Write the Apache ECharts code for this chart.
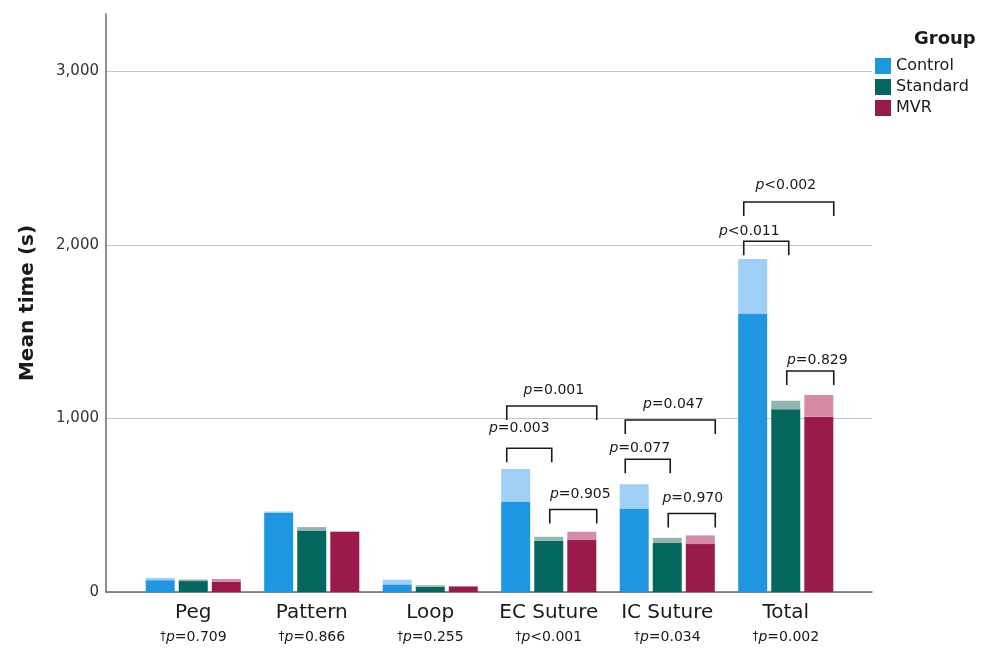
<!DOCTYPE html>
<html>
<head>
<meta charset="utf-8">
<script src="https://cdn.jsdelivr.net/npm/echarts@6/dist/echarts.min.js"></script>
<style>
  html, body { margin: 0; padding: 0; background: #ffffff; }
  #chart { width: 986px; height: 649px; }
</style>
</head>
<body>
<div id="chart"></div>
<script>
// Task categories and the overall (three-group) test result under each one
const categories = ['Peg', 'Pattern', 'Loop', 'EC Suture', 'IC Suture', 'Total'];
const overallP = ['=0.709', '=0.866', '=0.255', '<0.001', '=0.034', '=0.002'];
const groups = ['Control', 'Standard', 'MVR'];

// Mean time (s) per group, and the upper end of the lighter band above it
const controlMean   = [68, 456, 44, 518, 481, 1605];
const controlUpper  = [81, 464, 71, 709, 621, 1919];
const standardMean  = [63, 354, 30, 295, 282, 1053];
const standardUpper = [72, 374, 39, 318, 312, 1102];
const mvrMean       = [58, 347, 32, 299, 276, 1010];
const mvrUpper      = [75, 349, 33, 347, 326, 1135];

const yTicks = [0, 1000, 2000, 3000];
const yMax = 3330;

// Pairwise comparisons: category, the two groups compared, bracket height (s), p text
const bracketCategory = [3, 3, 3, 4, 4, 4, 5, 5, 5];
const bracketFrom     = [0, 0, 1, 0, 0, 1, 0, 0, 1];
const bracketTo       = [1, 2, 2, 2, 1, 2, 2, 1, 2];
const bracketLevel    = [828, 1072, 475, 991, 765, 452, 2247, 2021, 1273];
const bracketText     = ['=0.003', '=0.001', '=0.905', '=0.047', '=0.077', '=0.970', '<0.002', '<0.011', '=0.829'];

// ---- layout / styling ----
const FONT = 'DejaVu Sans';
const darkColors  = ['#1f96e2', '#03665f', '#9a1a4b'];
const lightColors = ['#9fcff5', '#94b4b0', '#d58ba5'];
const BAR_W = 29;
const BAR_GAP = '14%';
// horizontal offsets (px) of bracket ends from the category centre
const bracketStartOff = [-42, 1, 0];
const bracketEndOff   = [0, 3, 48];
const bracketLeg = 14;
const labelDx = [-10, 2, 7, 3, -8, 1, -3, -17, 7];
const labelDy = [20, 16, 15, 16, 11, 15, 17, 10, 11];

const means  = [controlMean, standardMean, mvrMean];
const uppers = [controlUpper, standardUpper, mvrUpper];

const barSeries = [];
groups.forEach((g, k) => {
  barSeries.push({
    name: g, type: 'bar', stack: 'g' + k,
    xAxisIndex: 1, yAxisIndex: 1,
    barWidth: BAR_W, barGap: BAR_GAP,
    itemStyle: { color: darkColors[k] },
    emphasis: { disabled: true },
    data: means[k]
  });
  barSeries.push({
    name: g + ' upper', type: 'bar', stack: 'g' + k,
    xAxisIndex: 1, yAxisIndex: 1,
    barWidth: BAR_W, barGap: BAR_GAP,
    itemStyle: { color: lightColors[k] },
    emphasis: { disabled: true },
    data: uppers[k].map((v, i) => v - means[k][i])
  });
});

const bracketData = bracketCategory.map((c, i) => [c, bracketLevel[i], bracketFrom[i], bracketTo[i], i]);

const bracketSeries = {
  type: 'custom',
  xAxisIndex: 1, yAxisIndex: 1,
  clip: false,
  silent: true,
  z: 10,
  data: bracketData,
  renderItem: function (params, api) {
    const idx = api.value(4);
    const c = api.coord([api.value(0), api.value(1)]);
    const x1 = c[0] + bracketStartOff[api.value(2)];
    const x2 = c[0] + bracketEndOff[api.value(3)];
    const y = c[1];
    return {
      type: 'group',
      children: [
        {
          type: 'polyline',
          shape: { points: [[x1, y + bracketLeg], [x1, y], [x2, y], [x2, y + bracketLeg]] },
          style: { stroke: '#1a1a1a', lineWidth: 1.6, fill: null }
        },
        {
          type: 'text',
          x: (x1 + x2) / 2 + labelDx[idx],
          y: y - labelDy[idx],
          style: {
            text: '{i|p}{n|' + bracketText[idx] + '}',
            align: 'center',
            verticalAlign: 'middle',
            rich: {
              i: { fontFamily: FONT, fontSize: 14, fontStyle: 'italic', fill: '#1a1a1a' },
              n: { fontFamily: FONT, fontSize: 14, fill: '#1a1a1a' }
            }
          }
        }
      ]
    };
  }
};

const chart = echarts.init(document.getElementById('chart'), null, { renderer: 'canvas' });

chart.setOption({
  animation: false,
  backgroundColor: '#ffffff',
  title: {
    text: 'Group',
    left: 909, top: 25,
    textStyle: { fontFamily: FONT, fontSize: 18, fontWeight: 'bold', color: '#1a1a1a' }
  },
  legend: {
    data: groups,
    orient: 'vertical',
    left: 875, top: 58,
    padding: 0,
    itemWidth: 16, itemHeight: 16, itemGap: 5,
    icon: 'rect',
    selectedMode: false,
    textStyle: { fontFamily: FONT, fontSize: 16, color: '#1a1a1a' }
  },
  grid: [
    { left: 106, right: 114, top: 14, bottom: 57, containLabel: false },
    { left: 134, right: 141, top: 14, bottom: 57, containLabel: false }
  ],
  xAxis: [
    {
      gridIndex: 0, type: 'value', min: 0, max: 1,
      axisLine: { show: true, lineStyle: { color: '#6a6a6a', width: 1.5 } },
      axisTick: { show: false }, axisLabel: { show: false }, splitLine: { show: false }
    },
    {
      gridIndex: 1, type: 'category', data: categories,
      axisLine: { show: false }, axisTick: { show: false }, splitLine: { show: false },
      axisLabel: {
        interval: 0,
        margin: 8,
        formatter: function (v, i) {
          return '{a|' + v + '}\n{d|\u2020}{i|p}{b|' + overallP[i] + '}';
        },
        rich: {
          a: { fontFamily: FONT, fontSize: 20, color: '#1a1a1a', lineHeight: 26 },
          d: { fontFamily: FONT, fontSize: 12, color: '#1a1a1a', lineHeight: 22 },
          i: { fontFamily: FONT, fontSize: 14, fontStyle: 'italic', color: '#1a1a1a', lineHeight: 22 },
          b: { fontFamily: FONT, fontSize: 14, color: '#1a1a1a', lineHeight: 22 }
        }
      }
    }
  ],
  yAxis: [
    {
      gridIndex: 0, type: 'value', min: yTicks[0], max: yMax, interval: yTicks[1] - yTicks[0],
      name: 'Mean time (s)',
      nameLocation: 'middle', nameRotate: 90, nameGap: 68,
      nameTextStyle: { fontFamily: FONT, fontSize: 20, fontWeight: 'bold', color: '#1a1a1a' },
      axisLine: { show: true, lineStyle: { color: '#6a6a6a', width: 1.5 } },
      axisTick: { show: false },
      axisLabel: {
        margin: 7, showMaxLabel: false,
        fontFamily: FONT, fontSize: 15, color: '#333333',
        formatter: function (v) { return yTicks.indexOf(v) >= 0 ? v.toLocaleString('en-US') : ''; }
      },
      splitLine: {
        show: true,
        lineStyle: {
          width: 1,
          color: yTicks.map(() => '#c4c4c4').concat(['rgba(0,0,0,0)'])
        }
      }
    },
    {
      gridIndex: 1, type: 'value', min: yTicks[0], max: yMax,
      show: false, splitLine: { show: false }
    }
  ],
  series: barSeries.concat([bracketSeries])
});
</script>
</body>
</html>
